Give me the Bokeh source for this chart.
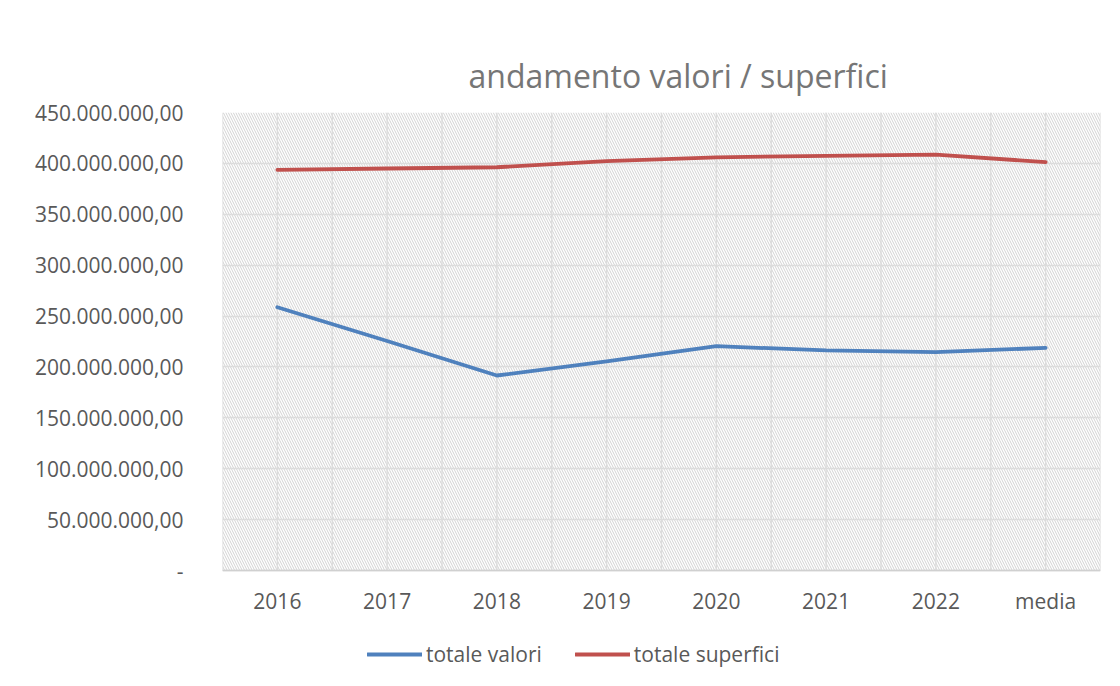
from bokeh.plotting import figure
from bokeh.models import (Range1d, FixedTicker, Legend, LegendItem, BoxAnnotation,
                          CustomJSTickFormatter)
from bokeh.embed import file_html
from bokeh.resources import INLINE

# ---------------- data ----------------
categories = ["2016", "2017", "2018", "2019", "2020", "2021", "2022", "media"]
totale_valori = [258.7e6, 225.5e6, 191.6e6, 205.5e6, 220.4e6, 216.2e6, 214.5e6, 218.8e6]
totale_superfici = [393.7e6, 395.0e6, 396.2e6, 402.2e6, 406.0e6, 407.4e6, 408.7e6, 401.2e6]
y_ticks = [0, 50e6, 100e6, 150e6, 200e6, 250e6, 300e6, 350e6, 400e6, 450e6]
y_tick_labels = ["-", "50.000.000,00", "100.000.000,00", "150.000.000,00",
                 "200.000.000,00", "250.000.000,00", "300.000.000,00",
                 "350.000.000,00", "400.000.000,00", "450.000.000,00"]
series_names = ["totale valori", "totale superfici"]
series_colors = ["#4f81bd", "#c0504d"]
title_text = "andamento valori / superfici"

FONT = "Open Sans"
TEXT = "#595959"
GRID = "#dcdcdc"

# layout (pixels)
W, H = 1112, 678
LEFT, RIGHT, TOP = 222, 12, 112
PLOT_H = 458            # height of the value area (0 .. max tick)
BELOW = H - TOP - PLOT_H  # room under the value area for x labels and legend

n = len(categories)
x = [i + 0.5 for i in range(n)]
y_max = y_ticks[-1]
y_min = y_ticks[0] - (y_max - y_ticks[0]) * BELOW / PLOT_H

p = figure(width=W, height=H, output_backend="svg", toolbar_location=None,
           x_range=Range1d(0, n), y_range=Range1d(y_min, y_max),
           min_border_left=LEFT, min_border_right=RIGHT, min_border_top=TOP,
           min_border_bottom=0)
p.outline_line_color = None
p.background_fill_color = "white"
p.border_fill_color = "white"

# hatched plot area
hatch = BoxAnnotation(bottom=y_ticks[0], fill_alpha=0, line_alpha=0,
                      hatch_pattern="\\", hatch_color="#d2d2d2", hatch_scale=5,
                      hatch_weight=1, level="image")
p.add_layout(hatch)

# grids
p.xgrid.grid_line_color = None
p.ygrid.ticker = FixedTicker(ticks=y_ticks)
p.ygrid.grid_line_color = GRID
p.ygrid.grid_line_width = 1.4
gx = [i * 0.5 for i in range(2 * n + 1)]
vg = p.segment(x0=gx, y0=[y_ticks[0]] * len(gx), x1=gx, y1=[y_max] * len(gx),
               line_color=GRID, line_width=1.4)
vg.level = "underlay"

# axes
p.xaxis.ticker = FixedTicker(ticks=x)
p.xaxis.fixed_location = y_ticks[0]
p.xaxis.formatter = CustomJSTickFormatter(args=dict(cat_labels=categories),
                                          code="return cat_labels[Math.floor(tick)];")
p.yaxis.ticker = FixedTicker(ticks=y_ticks)
p.yaxis.formatter = CustomJSTickFormatter(
    args=dict(yvals=y_ticks, ylabs=y_tick_labels),
    code="for (let i = 0; i < yvals.length; i++) { if (Math.abs(yvals[i] - tick) < 1) return ylabs[i]; } return '';")
for ax in (p.xaxis, p.yaxis):
    ax.major_tick_line_color = None
    ax.minor_tick_line_color = None
    ax.major_tick_out = 0
    ax.major_tick_in = 0
    ax.minor_tick_out = 0
    ax.minor_tick_in = 0
    ax.major_label_text_font = FONT
    ax.major_label_text_font_size = "21px"
    ax.major_label_text_color = TEXT
p.yaxis.axis_line_color = None
p.yaxis.major_label_standoff = 39
p.xaxis.axis_line_color = "#d0d0d0"
p.xaxis.axis_line_width = 1.5
p.xaxis.major_label_standoff = 16

# lines
renderers = []
for vals, col in zip([totale_valori, totale_superfici], series_colors):
    r = p.line(x, vals, line_color=col, line_width=3.8, line_cap="round",
               line_join="round")
    renderers.append(r)

legend = Legend(items=[LegendItem(label=nm, renderers=[r])
                       for nm, r in zip(series_names, renderers)],
                orientation="horizontal", location=(145, 10),
                glyph_width=55, glyph_height=24, label_standoff=4, spacing=33,
                padding=0, margin=0, border_line_color=None,
                background_fill_alpha=0,
                label_text_font=FONT, label_text_font_size="21px",
                label_text_color=TEXT)
p.add_layout(legend)

p.title.text = title_text
p.title.align = "left"
p.title.offset = 246
p.title.standoff = 31
p.title.text_font = FONT
p.title.text_font_size = "32px"
p.title.text_font_style = "normal"
p.title.text_color = "#767676"

open("out.html", "w").write(file_html(p, INLINE))
